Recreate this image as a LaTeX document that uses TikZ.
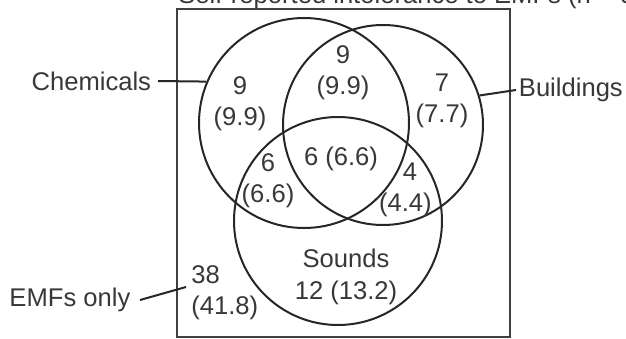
\documentclass[tikz,border=0pt]{standalone}
\usepackage{fontspec}
\setmainfont{Liberation Sans}
\begin{document}
\begin{tikzpicture}[x=0.75pt,y=-0.75pt,
  lbl/.style={font=\fontsize{19.2}{23.5}\selectfont, text=black!78, align=center, inner sep=0pt},
  ring/.style={circle, draw=black!85, line width=1.5pt, inner sep=0pt},
  frame/.style={draw=black!75, line width=2pt},
  lead/.style={draw=black!85, line width=1.5pt}]
\useasboundingbox (0,0) rectangle (626,339);
\clip (0,0) rectangle (626,339);
% title (cut off at top, as in the reference)
\node[lbl, anchor=base west] (title) at (178,3) {Self-reported intolerance to EMFs (n = 91)};
% frame
\draw[frame] (177,9) rectangle (510,337);
% circles
\node[ring, minimum size=157.5pt] (chem) at (304,123) {};
\node[ring, minimum size=150pt] (bld) at (383,125) {};
\node[ring, minimum size=156pt] (snd) at (338,221) {};
% region labels
\node[lbl] (c1) at (240,104) {9\\(9.9)};
\node[lbl] (cb) at (343,73) {9\\(9.9)};
\node[lbl] (b1) at (442,101) {7\\(7.7)};
\node[lbl] (cbs) at (341,159) {6 (6.6)};
\node[lbl] (cs) at (268,181) {6\\(6.6)};
\node[lbl, align=right, anchor=east] (bs) at (432,190) {4\kern11pt\\(4.4)};
\node[lbl] (s1) at (346,277) {Sounds\\12 (13.2)};
\node[lbl, align=left, anchor=west] (e1) at (191,293) {38\\(41.8)};
% outside labels
\node[lbl, anchor=east, inner xsep=5pt] (chemlbl) at (158,81) {Chemicals};
\node[lbl, anchor=west, inner xsep=2pt] (bldlbl) at (516,90) {Buildings};
\node[lbl, anchor=east, inner xsep=7pt] (emflbl) at (140,300) {EMFs only};
\coordinate (emfend) at (186,287);
% leader lines
\draw[lead] (chemlbl.east) -- (chem.157.6);
\draw[lead] (bld.17) -- (bldlbl.west);
\draw[lead] (emflbl.east) -- (emfend);
\end{tikzpicture}
\end{document}
